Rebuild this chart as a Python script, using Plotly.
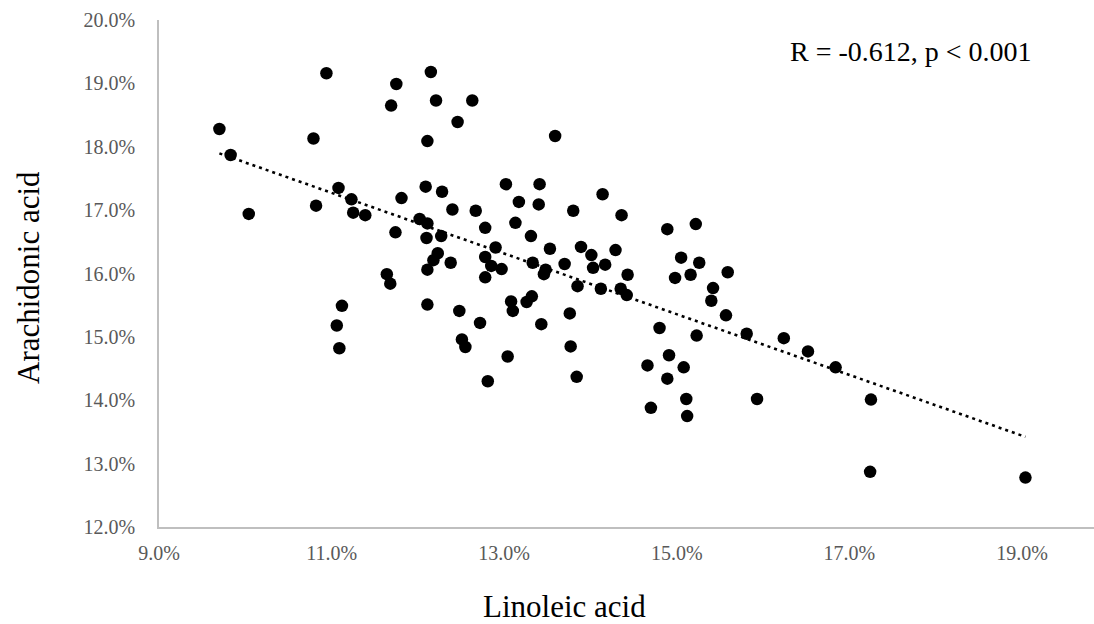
import numpy as np
import plotly.graph_objects as go

# Linoleic acid (%) and Arachidonic acid (%)
linoleic = [10.94, 11.75, 11.69, 9.70, 10.79, 9.83, 11.08, 11.23, 10.82, 11.25,
            11.39, 10.04, 11.81, 11.74, 11.64, 11.68, 11.12, 11.06, 11.09, 12.15,
            12.21, 12.63, 12.46, 12.11, 13.59, 13.02, 13.41, 12.09, 12.28, 14.14,
            13.17, 13.40, 12.40, 12.67, 13.80, 14.36, 12.02, 12.11, 13.13, 12.78,
            12.10, 12.27, 13.31, 12.90, 13.53, 13.89, 14.29, 12.23, 12.18, 12.78,
            14.01, 12.38, 12.85, 12.97, 13.33, 13.70, 14.17, 14.03, 14.43, 12.11,
            13.48, 13.46, 12.78, 13.85, 14.12, 14.35, 14.42, 12.11, 12.48, 13.08,
            13.10, 13.32, 13.26, 13.76, 12.72, 13.43, 12.51, 12.55, 13.77, 13.04,
            12.81, 13.84, 14.89, 15.22, 15.05, 15.26, 14.98, 15.16, 15.59, 15.42,
            15.40, 15.57, 14.80, 15.23, 15.81, 16.24, 16.52, 16.84, 14.91, 14.66,
            15.08, 14.89, 15.11, 14.70, 15.12, 15.93, 17.25, 17.24, 19.04]
arachidonic = [19.16, 18.99, 18.65, 18.28, 18.13, 17.87, 17.35, 17.17, 17.07, 16.96,
               16.92, 16.94, 17.19, 16.65, 15.99, 15.84, 15.49, 15.18, 14.82, 19.18,
               18.73, 18.73, 18.39, 18.09, 18.17, 17.41, 17.41, 17.37, 17.29, 17.25,
               17.13, 17.09, 17.01, 16.99, 16.99, 16.92, 16.86, 16.79, 16.80, 16.72,
               16.56, 16.59, 16.59, 16.41, 16.39, 16.42, 16.37, 16.32, 16.21, 16.26,
               16.29, 16.17, 16.12, 16.07, 16.17, 16.15, 16.14, 16.09, 15.98, 16.06,
               16.06, 15.99, 15.94, 15.80, 15.76, 15.76, 15.66, 15.51, 15.41, 15.56,
               15.41, 15.64, 15.55, 15.37, 15.22, 15.20, 14.96, 14.84, 14.85, 14.69,
               14.30, 14.37, 16.70, 16.78, 16.25, 16.17, 15.93, 15.98, 16.02, 15.77,
               15.57, 15.34, 15.14, 15.02, 15.05, 14.98, 14.77, 14.52, 14.71, 14.55,
               14.52, 14.34, 14.02, 13.88, 13.75, 14.02, 14.01, 12.87, 12.78]

x_ticks = [9, 11, 13, 15, 17, 19]
y_ticks = [12, 13, 14, 15, 16, 17, 18, 19, 20]
stat_text = "R = -0.612, p < 0.001"
x_title = "Linoleic acid"
y_title = "Arachidonic acid"

x = np.array(linoleic)
y = np.array(arachidonic)
slope, intercept = np.polyfit(x, y, 1)
fit_x = np.array([x.min(), x.max()])
fit_y = slope * fit_x + intercept

W, H = 1094, 624
L, R, T, B = 159, 0, 20, 97
plot_w = W - L - R
plot_h = H - T - B
px_per_x = 86.3
x_max = 9 + plot_w / px_per_x

def px_to_paper_x(px):
    return (px - L) / plot_w

def py_to_paper_y(py):
    return (H - B - py) / plot_h

FONT = "Liberation Serif, Times New Roman, serif"

fig = go.Figure()
fig.add_trace(go.Scatter(
    x=fit_x, y=fit_y, mode="lines",
    line=dict(color="black", width=2.6, dash="3px,4px"),
    hoverinfo="skip", showlegend=False,
))
fig.add_trace(go.Scatter(
    x=linoleic, y=arachidonic, mode="markers",
    marker=dict(color="black", size=12.5, line=dict(width=0)),
    showlegend=False,
))

fig.update_layout(
    width=W, height=H,
    margin=dict(l=L, r=R, t=T, b=B, pad=0),
    paper_bgcolor="white", plot_bgcolor="white",
    font=dict(family=FONT, color="#595959", size=20),
    showlegend=False,
    annotations=[
        dict(text=stat_text, xref="paper", yref="paper",
             x=px_to_paper_x(1034), y=py_to_paper_y(52),
             xanchor="right", yanchor="middle", showarrow=False,
             font=dict(family=FONT, size=28, color="black")),
        dict(text=x_title, xref="paper", yref="paper",
             x=px_to_paper_x(564), y=py_to_paper_y(606),
             xanchor="center", yanchor="middle", showarrow=False,
             font=dict(family=FONT, size=31, color="black")),
        dict(text=y_title, xref="paper", yref="paper",
             x=px_to_paper_x(29), y=py_to_paper_y(278),
             xanchor="center", yanchor="middle", showarrow=False, textangle=-90,
             font=dict(family=FONT, size=31, color="black")),
    ],
)
fig.update_xaxes(
    range=[9, x_max], tickmode="array", tickvals=x_ticks,
    ticktext=[f"{v:.1f}%" for v in x_ticks],
    showgrid=False, zeroline=False, showline=True, linecolor="#BFBFBF", linewidth=1.5,
    ticks="", ticklabelstandoff=7,
    tickfont=dict(family=FONT, size=20, color="#595959"),
)
fig.update_yaxes(
    range=[12, 20], tickmode="array", tickvals=y_ticks,
    ticktext=[f"{v:.1f}%" for v in y_ticks],
    showgrid=False, zeroline=False, showline=True, linecolor="#BFBFBF", linewidth=1.5,
    ticks="", ticklabelstandoff=18,
    tickfont=dict(family=FONT, size=20, color="#595959"),
)

fig.write_html("out.html")
